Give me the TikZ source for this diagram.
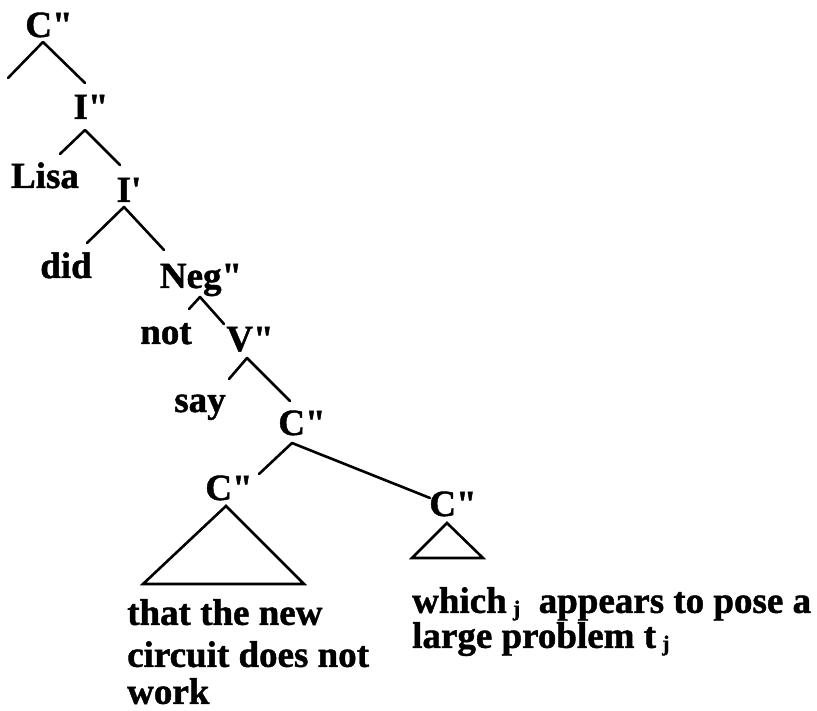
\documentclass[tikz,border=0pt]{standalone}
\usepackage{fontspec}
\setmainfont{Liberation Serif}[Ligatures=TeXOff, BoldFeatures={FakeBold=1.2}]
\newcommand{\dq}{\symbol{34}}
\newcommand{\sq}{\symbol{39}}
\newcommand{\subj}{\raisebox{-3pt}{\fontsize{22}{22}\selectfont j}}
\begin{document}
\begin{tikzpicture}[x=1pt,y=-1pt,
  lbl/.style={inner sep=0pt, anchor=base, font=\fontsize{37}{40}\selectfont\bfseries},
  edge/.style={line width=2.6pt, line cap=round, line join=round}]
\useasboundingbox (0,0) rectangle (817,711);
% nodes
\node[lbl] (c1) at (49,37) {C\dq};
\node[lbl] (i2) at (91,119) {I\dq};
\node[lbl] (lisa) at (45,188) {Lisa};
\node[lbl] (i1) at (129,202) {I\sq};
\node[lbl] (did) at (66,278) {did};
\node[lbl] (neg) at (201,288) {Neg\dq};
\node[lbl] (not) at (166,344) {not};
\node[lbl] (v2) at (250,351) {V\dq};
\node[lbl] (say) at (200,412) {say};
\node[lbl] (c2) at (302,435) {C\dq};
\node[lbl] (c3) at (229,500) {C\dq};
\node[lbl] (c4) at (453,516) {C\dq};
\node[lbl, anchor=north west, align=left] (t1) at (127,599)
  {that the new\\[2pt]circuit does not\\[-3pt]work};
\node[lbl, anchor=north west, align=left] (t2) at (412,587)
  {which\,\subj\ \ appears to pose a\\[-5pt]large problem t\,\subj};
% connector points
\coordinate (c1a) at (43,42);  \coordinate (c1l) at (8,78);    \coordinate (c1r) at (85,83);
\coordinate (i2a) at (85,130); \coordinate (i2l) at (60,154);  \coordinate (i2r) at (120,165);
\coordinate (i1a) at (124,207);\coordinate (i1l) at (87,243);  \coordinate (i1r) at (164,250);
\coordinate (nga) at (200,297);\coordinate (ngl) at (189,309); \coordinate (ngr) at (224,324);
\coordinate (v2a) at (247,358);\coordinate (v2l) at (229,379); \coordinate (v2r) at (290,401);
\coordinate (c2a) at (292,443);\coordinate (c2l) at (259,474); \coordinate (c2r) at (430,498);
\coordinate (c3a) at (226,506);\coordinate (c3l) at (143,584); \coordinate (c3r) at (304,584);
\coordinate (c4a) at (447,523);\coordinate (c4l) at (412,558); \coordinate (c4r) at (483,558);
% connectors
\draw[edge] (c1l) -- (c1a) -- (c1r);
\draw[edge] (i2l) -- (i2a) -- (i2r);
\draw[edge] (i1l) -- (i1a) -- (i1r);
\draw[edge] (ngl) -- (nga) -- (ngr);
\draw[edge] (v2l) -- (v2a) -- (v2r);
\draw[edge] (c2l) -- (c2a) -- (c2r);
\draw[edge, line join=miter] (c3a) -- (c3l) -- (c3r) -- cycle;
\draw[edge, line join=miter] (c4a) -- (c4l) -- (c4r) -- cycle;
\end{tikzpicture}
\end{document}
